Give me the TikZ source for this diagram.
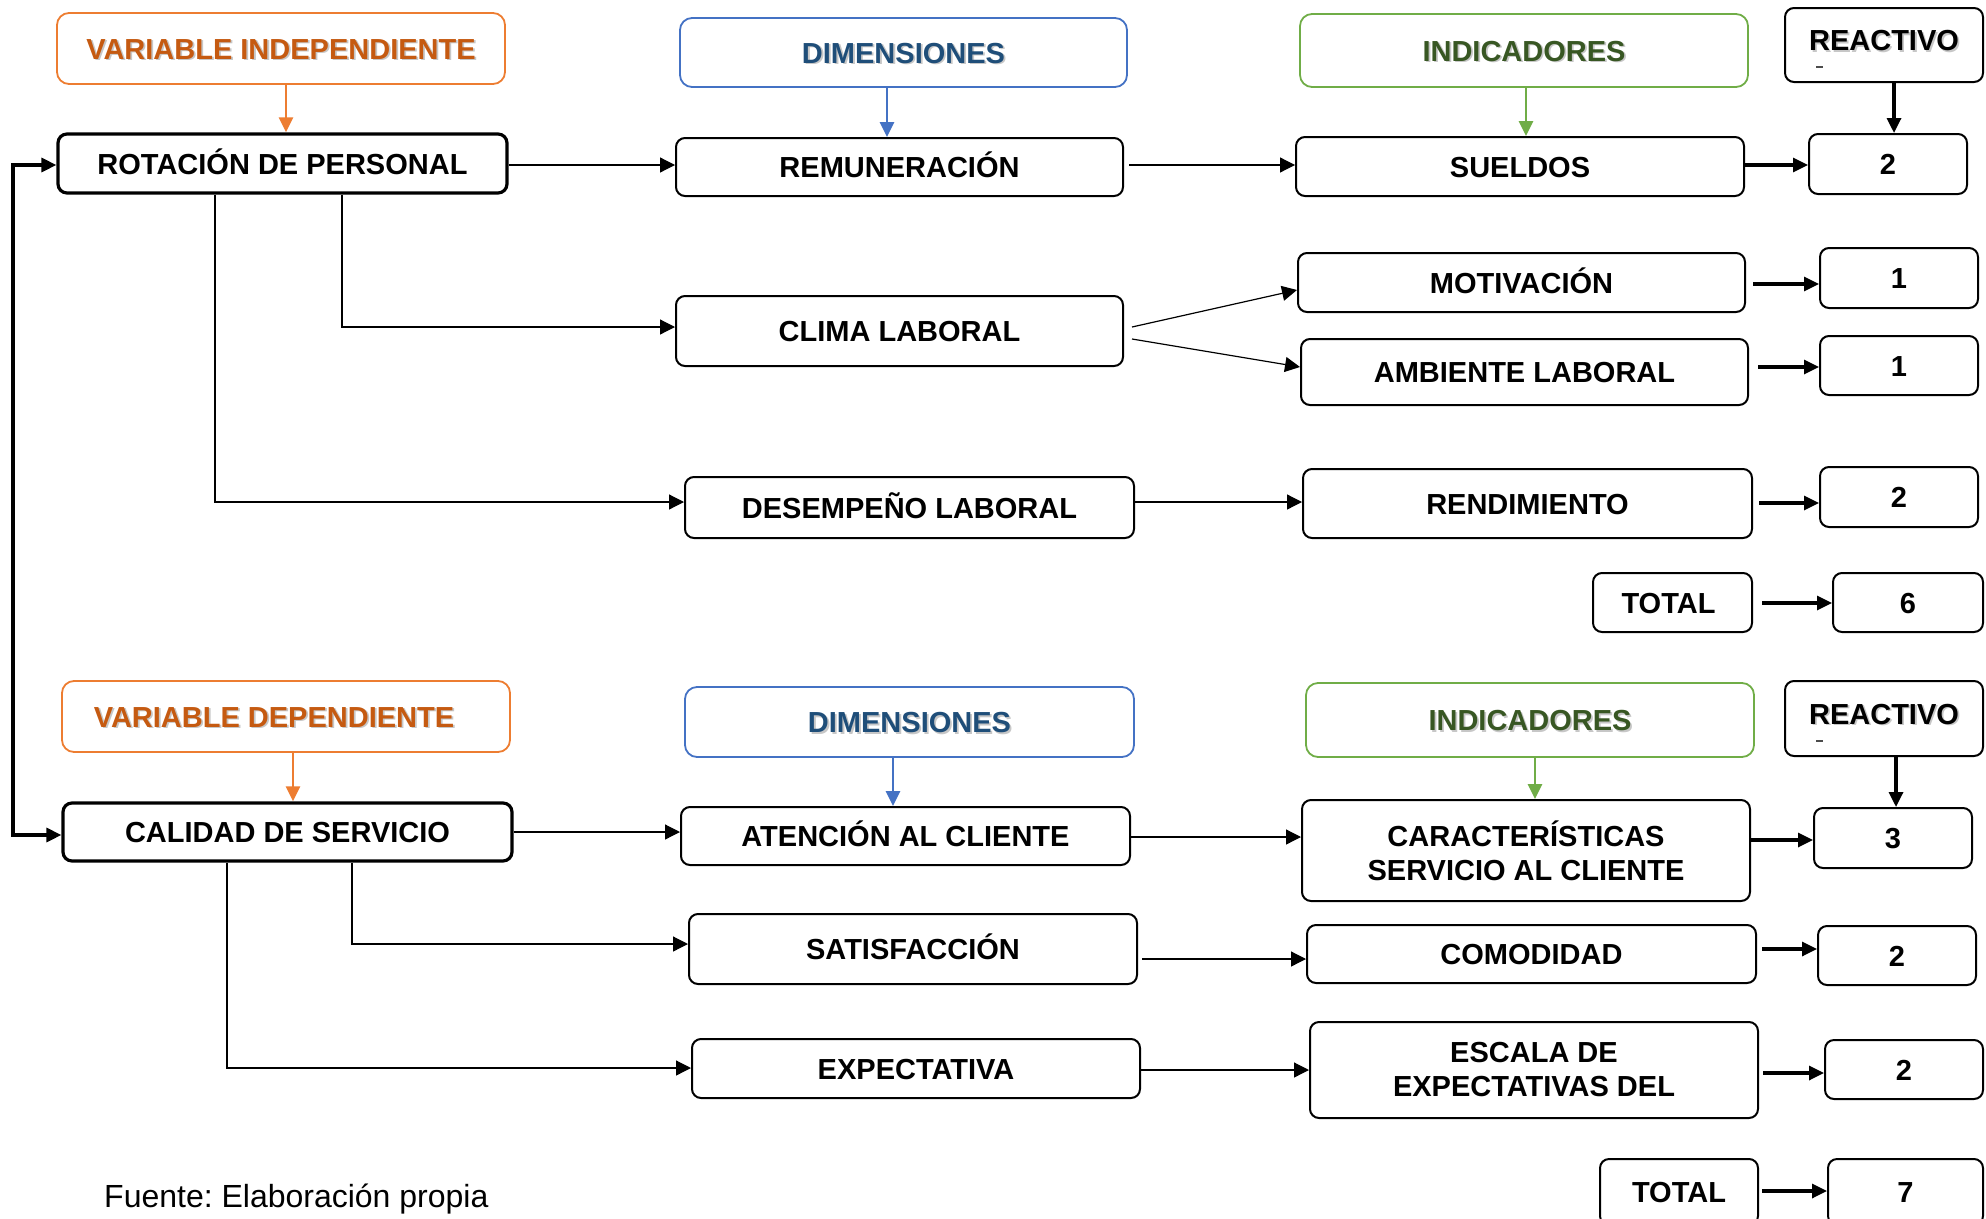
\documentclass[tikz,border=0pt]{standalone}
\usepackage{fontspec}
\setmainfont{Liberation Sans}
\usetikzlibrary{arrows.meta,calc}
\definecolor{orB}{HTML}{ED7D31}
\definecolor{orT}{HTML}{C55A11}
\definecolor{blB}{HTML}{4472C4}
\definecolor{blT}{HTML}{1F4E79}
\definecolor{grB}{HTML}{70AD47}
\definecolor{grT}{HTML}{385723}
\newcommand{\shtxt}[1]{\makebox[0pt][l]{\hspace{1.8pt}\raisebox{-1.8pt}{\textcolor{black!22}{#1}}}#1}
\frenchspacing
\begin{document}
\begin{tikzpicture}[x=1pt,y=-1pt,
 every node/.style={font=\fontsize{29}{34}\selectfont\bfseries, align=center, inner sep=0pt},
 box/.style={draw, rounded corners=9pt, line width=2pt},
 t/.style={text height=21pt, text depth=0pt},
 bx/.style={box, t},
 bbox/.style={box, t, line width=3.2pt},
 hdr/.style={draw, rounded corners=12pt, line width=1.8pt, t},
 sz/.style 2 args={minimum width=#1pt, minimum height=#2pt},
 thinarr/.style={line width=1.2pt, -{Triangle[length=15pt,width=15pt]}},
 fatarr/.style={line width=3.2pt, -{Triangle[length=15pt,width=14pt]}},
 hdrarr/.style={line width=2.8pt, -{Triangle[length=15pt,width=14pt]}},
 ]
\useasboundingbox (0,0) rectangle (1986,1218);

% ---------- upper block ----------
\node[hdr,draw=orB,text=orT,sz={448}{71}] (vi) at (281,48.5) {\shtxt{VARIABLE INDEPENDIENTE}};
\node[bbox,sz={449}{59}] (rot) at (282.5,163.5) {ROTACIÓN DE PERSONAL};
\node[hdr,draw=blB,text=blT,sz={447}{69}] (dim1) at (903.5,52.5) {\shtxt{DIMENSIONES}};
\node[bx,sz={447}{58}] (rem) at (899.5,167) {REMUNERACIÓN};
\node[hdr,draw=grB,text=grT,sz={448}{73}] (ind1) at (1524,50.5) {\shtxt{INDICADORES}};
\node[bx,sz={448}{59}] (sue) at (1520,166.5) {SUELDOS};
\node[box,sz={198}{74},text height=21pt,text depth=10pt] (rea1) at (1884,45) {\shtxt{REACTIVO}};
\node[bx,sz={158}{60}] (n2a) at (1888,164) {2};

\node[bx,sz={447}{70}] (clima) at (899.5,331) {CLIMA LABORAL};
\node[bx,sz={447}{59}] (mot) at (1521.5,282.5) {MOTIVACIÓN};
\node[bx,sz={447}{66}] (amb) at (1524.5,372) {AMBIENTE LABORAL};
\node[bx,sz={158}{60}] (n1a) at (1899,278) {1};
\node[bx,sz={158}{59}] (n1b) at (1899,365.5) {1};

\node[bx,sz={449}{61}] (des) at (909.5,507.5) {DESEMPEÑO LABORAL};
\node[bx,sz={449}{69}] (ren) at (1527.5,503.5) {RENDIMIENTO};
\node[bx,sz={158}{60}] (n2b) at (1899,497) {2};

\node[bx,sz={159}{59}] (tot1) at (1672.5,602.5) {TOTAL\hspace{8pt}};
\node[bx,sz={150}{59}] (n6) at (1908,602.5) {6};

% ---------- lower block ----------
\node[hdr,draw=orB,text=orT,sz={448}{71}] (vd) at (286,716.5) {\shtxt{VARIABLE DEPENDIENTE}\hspace{24pt}};
\node[bbox,sz={449}{58}] (cal) at (287.5,832) {CALIDAD DE SERVICIO};
\node[hdr,draw=blB,text=blT,sz={449}{70}] (dim2) at (909.5,722) {\shtxt{DIMENSIONES}};
\node[bx,sz={449}{58}] (ate) at (905.5,836) {ATENCIÓN AL CLIENTE};
\node[hdr,draw=grB,text=grT,sz={448}{74}] (ind2) at (1530,720) {\shtxt{INDICADORES}};
\node[box,sz={198}{75},text height=21pt,text depth=10pt] (rea2) at (1884,718.5) {\shtxt{REACTIVO}};
\node[box,sz={448}{101}] (car) at (1526,850.5) {CARACTERÍSTICAS\\SERVICIO AL CLIENTE};
\node[bx,sz={158}{60}] (n3) at (1893,838) {3};

\node[bx,sz={448}{70}] (sat) at (913,949) {SATISFACCIÓN};
\node[bx,sz={449}{58}] (com) at (1531.5,954) {COMODIDAD};
\node[bx,sz={158}{59}] (n2c) at (1897,955.5) {2};

\node[bx,sz={448}{59}] (exp) at (916,1068.5) {EXPECTATIVA};
\node[box,sz={448}{96}] (esc) at (1534,1070) {ESCALA DE\\EXPECTATIVAS DEL};
\node[bx,sz={158}{59}] (n2d) at (1904,1069.5) {2};

\node[bx,sz={158}{66}] (tot2) at (1679,1192) {TOTAL};
\node[bx,sz={155}{66}] (n7) at (1905.5,1192) {7};

\node[font=\fontsize{32}{36}\selectfont, anchor=west] (fuente) at (104,1199) {Fuente: Elaboración propia};

% small marks inside REACTIVO boxes
\draw[black!70,line width=1.2pt] (1816,67) -- (1823,67);
\draw[black!70,line width=1.2pt] (1816,741) -- (1823,741);

% ---------- header arrows ----------
\draw[orB,hdrarr] (vi.south -| 286,0) -- (rot.north -| 286,0);
\draw[blB,hdrarr] (dim1.south -| 887,0) -- (rem.north -| 887,0);
\draw[grB,hdrarr] (ind1.south -| 1526,0) -- (sue.north -| 1526,0);
\draw[fatarr] (rea1.south -| 1894,0) -- (n2a.north -| 1894,0);

\draw[orB,hdrarr] (vd.south -| 293,0) -- (cal.north -| 293,0);
\draw[blB,hdrarr] (dim2.south -| 893,0) -- (ate.north -| 893,0);
\draw[grB,hdrarr] (ind2.south -| 1535,0) -- (car.north -| 1535,0);
\draw[fatarr] (rea2.south -| 1896,0) -- (n3.north -| 1896,0);

% ---------- upper connectors ----------
\draw[thinarr] (rot.east |- 0,165) -- (rem.west |- 0,165);
\draw[thinarr] ($(rem.east |- 0,165)+(5,0)$) -- (sue.west |- 0,165);
\draw[fatarr] (sue.east |- 0,165) -- (n2a.west |- 0,165);
\draw[thinarr] (rot.south -| 342,0) |- (clima.west |- 0,327);
\draw[thinarr] (rot.south -| 215,0) |- (des.west |- 0,502);
\draw[thinarr] ($(clima.east)+(8,-4)$) -- (mot.west |- 0,290);
\draw[thinarr] ($(clima.east)+(8,8)$) -- (amb.west |- 0,367);
\draw[fatarr] ($(mot.east |- 0,284)+(7,0)$) -- (n1a.west |- 0,284);
\draw[fatarr] ($(amb.east |- 0,367)+(9,0)$) -- (n1b.west |- 0,367);
\draw[thinarr] (des.east |- 0,502) -- (ren.west |- 0,502);
\draw[fatarr] ($(ren.east |- 0,503)+(6,0)$) -- (n2b.west |- 0,503);
\draw[fatarr] ($(tot1.east |- 0,603)+(9,0)$) -- (n6.west |- 0,603);

% feedback line
\draw[line width=3.2pt, {Triangle[length=15pt,width=14pt]}-{Triangle[length=15pt,width=14pt]}]
  (rot.west |- 0,165) -- (13,165) |- (cal.west |- 0,835);

% ---------- lower connectors ----------
\draw[thinarr] (cal.east |- 0,832) -- (ate.west |- 0,832);
\draw[thinarr] (ate.east |- 0,837) -- (car.west |- 0,837);
\draw[fatarr] ($(car.east |- 0,840)+(-2,0)$) -- (n3.west |- 0,840);
\draw[thinarr] (cal.south -| 352,0) |- (sat.west |- 0,944);
\draw[thinarr] (cal.south -| 227,0) |- (exp.west |- 0,1068);
\draw[thinarr] ($(sat.east |- 0,959)+(4,0)$) -- (com.west |- 0,959);
\draw[fatarr] ($(com.east |- 0,949)+(5,0)$) -- (n2c.west |- 0,949);
\draw[thinarr] (exp.east |- 0,1070) -- (esc.west |- 0,1070);
\draw[fatarr] ($(esc.east |- 0,1073)+(4,0)$) -- (n2d.west |- 0,1073);
\draw[fatarr] ($(tot2.east |- 0,1191)+(3,0)$) -- (n7.west |- 0,1191);
\end{tikzpicture}
\end{document}
